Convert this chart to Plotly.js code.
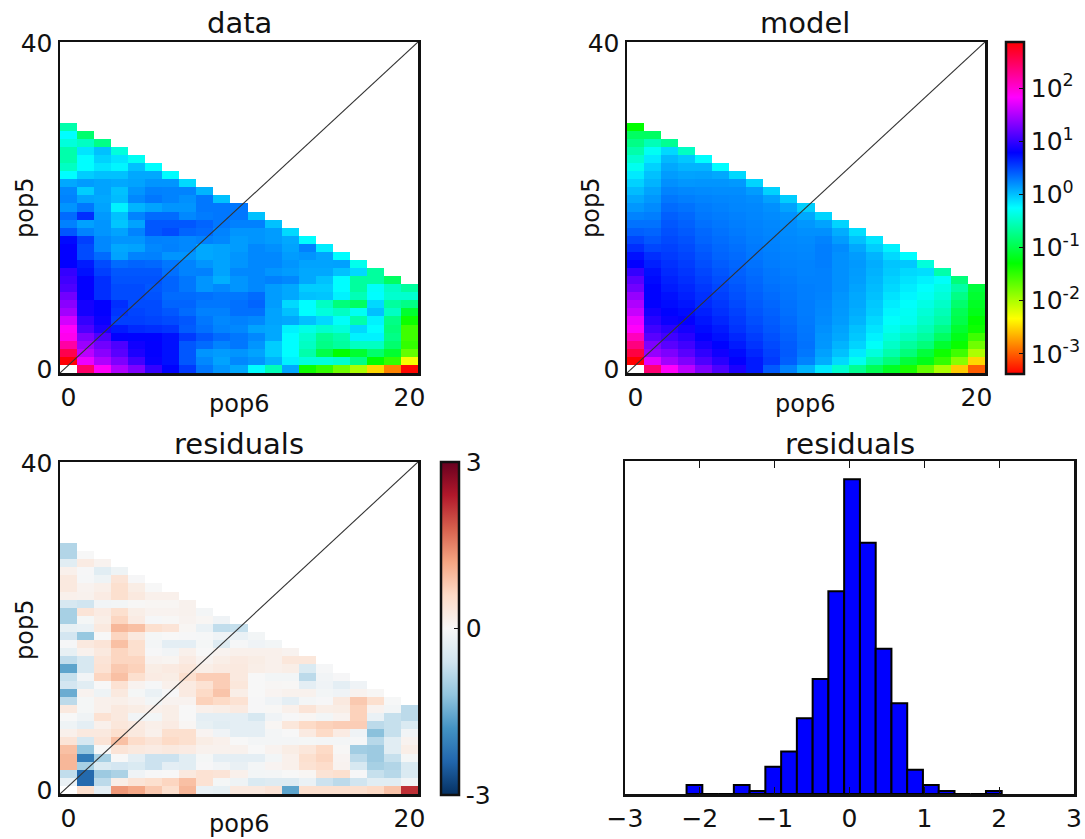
<!DOCTYPE html>
<html><head><meta charset="utf-8">
<script src="https://cdn.plot.ly/plotly-3.0.1.min.js"></script>
<style>html,body{margin:0;padding:0;background:#fff}#c{width:1085px;height:839px}</style>
</head><body><div id="c"></div>
<script>
// log10(frequency), one list per pop6 column, pop5 index rising from 0
const dataLog = [
[null,2.85,2.55,2.2,1.9,1.85,1.65,1.45,1.35,1.25,1.1,1.05,1.0,.8,.8,.8,.75,.43,.26,.35,.18,.25,.23,.1,-.25,-.5,-.6,-.6,-.4,-.25,-.6],
[2.45,1.75,1.55,1.42,1.3,1.1,1.0,.87,.87,.8,.8,.8,.72,.68,.48,.48,.53,.25,.13,.6,.3,.12,-.05,.15,-.05,-.25,-.25,-.15,-.5,-.85],
[1.85,1.5,1.35,1.25,1.1,.9,.83,.8,.8,.6,.6,.6,.53,.48,.35,.23,.23,.18,.18,.16,.12,.1,.12,.12,0,-.15,-.07,0,-.75],
[1.5,1.3,1.15,1.1,.8,.68,.53,.57,.6,.48,.48,.45,.43,.35,.12,.1,.18,.12,-.02,0,-.2,.02,0,.1,0,-.22,-.15,-.4],
[1.3,1.05,.9,.85,.78,.62,.53,.51,.48,.48,.48,.45,.43,.38,.25,.12,.18,.25,.12,.25,.05,.23,.18,.12,.1,0,-.3],
[1.0,.82,.8,.8,.78,.6,.51,.48,.48,.45,.43,.45,.43,.36,.26,.23,.26,.43,.43,.35,.12,.3,.26,.18,.1,-.25],
[.78,.72,.72,.72,.72,.57,.48,.43,.38,.35,.38,.38,.33,.3,.18,.26,.25,.48,.43,.35,.18,.25,.25,.18,-.25],
[.55,.43,.43,.43,.55,.41,.43,.35,.38,.35,.3,.3,.25,.25,.18,.23,.23,.38,.43,.23,.18,.2,.25,-.1],
[.3,.23,.18,.35,.43,.33,.3,.26,.3,.33,.18,.18,.26,.18,.1,.1,.26,.35,.38,.28,.3,.3,.05],
[.18,.12,.15,.25,.35,.25,.23,.26,.3,.3,.23,.07,.12,.12,.12,.12,.23,.25,.3,.3,.3,0],
[.1,.23,.18,.3,.3,.23,.26,.33,.33,.3,.18,.18,.23,.18,.18,.15,.15,.18,.26,.3,.3],
[-.25,.18,.12,.18,.23,.12,.23,.33,.38,.35,.23,.23,.23,.23,.23,.23,.18,.18,.26,0],
[-.55,.05,-.05,-.05,.1,.1,.12,.12,.15,.15,.15,.26,.18,.23,.23,.2,.15,.15,0],
[.1,-.2,-.25,-.25,-.25,-.2,.1,0,-.1,.1,.1,.23,.15,.18,.15,.12,.1,-.1],
[-1.35,-.4,-.6,-.5,-.45,-.35,0,-.25,-.25,0,-.05,.1,.1,.12,.18,.26,-.25],
[-1.5,-.4,-1.0,-.75,-.7,-.45,-.1,-.4,-.5,-.02,-.05,0,.1,.12,.12,-.18],
[-1.75,-.45,-1.3,-.65,-.6,-.4,-.28,-.5,-.8,-.2,-.25,-.25,0,.13,-.25],
[-2.0,-.75,-1.1,-.5,-.2,-.1,-.6,-.3,-.9,-.55,-.65,-.65,-.1,-.33],
[-2.5,-1.3,-.85,-.5,-.2,-.25,-.2,0,-.1,-.25,-.28,-.65,-.65],
[-2.85,-1.5,-1.1,-.85,-.75,-.8,-.75,-.5,-.65,-.45,-.5,-.9],
[-3.35,-2.3,-1.7,-1.5,-1.55,-1.55,-1.35,-1.1,-.75,-.45,-.65]
];
const modelLog = [
[null,2.87,2.6,2.35,2.1,1.85,1.75,1.6,1.5,1.4,1.25,1.15,1.0,.8,.72,.6,.5,.4,.32,.25,.17,.1,.02,-.07,-.17,-.32,-.45,-.6,-.75,-.9,-1.3],
[2.4,1.7,1.4,1.3,1.15,1.05,.95,.87,.8,.78,.78,.75,.72,.66,.6,.5,.43,.38,.32,.27,.22,.17,.12,.05,0,-.07,-.17,-.3,-.55,-.9],
[1.85,1.45,1.3,1.15,1.05,.95,.83,.78,.74,.72,.68,.65,.62,.59,.55,.52,.49,.46,.43,.4,.35,.3,.25,.2,.15,.1,.03,-.1,-.7],
[1.55,1.3,1.15,1.05,.95,.87,.8,.74,.7,.66,.63,.6,.57,.54,.51,.48,.45,.42,.39,.36,.32,.27,.23,.17,.12,.05,-.03,-.5],
[1.3,1.1,.98,.88,.8,.74,.7,.66,.62,.59,.56,.53,.5,.47,.44,.41,.38,.36,.33,.3,.28,.25,.22,.18,.13,.05,-.25],
[1.1,.95,.85,.78,.72,.68,.63,.59,.56,.53,.5,.47,.44,.41,.38,.36,.34,.32,.3,.28,.26,.24,.21,.18,.1,-.25],
[.9,.8,.74,.68,.63,.58,.55,.52,.49,.46,.44,.41,.39,.37,.35,.33,.31,.29,.27,.26,.24,.23,.21,.16,-.1],
[.68,.68,.63,.58,.54,.5,.47,.44,.42,.4,.38,.36,.34,.32,.3,.29,.27,.26,.25,.24,.23,.21,.15,-.08],
[.42,.55,.52,.49,.46,.43,.41,.39,.37,.35,.33,.31,.3,.28,.27,.26,.25,.24,.23,.22,.2,.13,-.07],
[.25,.4,.42,.41,.39,.37,.35,.33,.32,.31,.3,.29,.27,.26,.25,.24,.23,.22,.21,.19,.12,-.05],
[.05,.25,.3,.32,.31,.3,.29,.28,.28,.27,.27,.26,.25,.25,.24,.23,.22,.2,.17,.1,-.06],
[-.17,.08,.13,.17,.18,.2,.22,.23,.24,.25,.26,.26,.26,.27,.27,.27,.25,.2,.12,-.08],
[-.45,-.1,0,.05,.1,.12,.15,.16,.17,.18,.2,.2,.2,.2,.2,.22,.15,.08,-.08],
[-.7,-.32,-.17,-.08,-.03,0,.05,.08,.1,.1,.12,.14,.15,.16,.15,.1,0,-.12],
[-.95,-.6,-.4,-.28,-.2,-.15,-.1,-.05,-.03,0,.02,.04,.06,.08,.05,-.05,-.15],
[-1.15,-.8,-.6,-.48,-.4,-.32,-.27,-.22,-.18,-.14,-.1,-.07,-.04,-.02,-.1,-.2],
[-1.4,-1.05,-.8,-.65,-.52,-.42,-.32,-.3,-.27,-.22,-.18,-.14,-.1,-.03,-.25],
[-1.7,-1.2,-1.05,-.8,-.65,-.55,-.47,-.42,-.36,-.3,-.26,-.2,-.12,-.4],
[-2.0,-1.5,-1.35,-1.1,-.9,-.75,-.62,-.55,-.48,-.42,-.36,-.28,-.6],
[-2.55,-1.85,-1.55,-1.33,-1.2,-1.1,-1.0,-.95,-.85,-.75,-.62,-.8],
[-3.0,-2.5,-2.0,-1.75,-1.55,-1.35,-1.3,-1.2,-1.15,-1.1,-1.05]
];
const residuals = [
[null,-.2,-.75,1.0,1.0,.9,.4,.15,-.15,0,.3,-.8,-1.5,-.55,-.7,-1.6,-.75,-.25,-.03,-.55,-.25,-1.0,-1.0,-.5,.15,.3,.3,.15,-.35,-.9,-.9],
[.5,-2.35,-2.35,-1.0,-2.1,-1.15,-.5,.3,-.3,-.13,-.05,-.05,.1,-.35,-.1,-.5,-.5,.12,.3,-1.15,-.2,-.05,.4,-.6,.12,.1,-.03,-.02,.25,0],
[-.3,-.8,-1.1,-.45,-1.0,0,.4,.3,.15,.45,.15,.15,-.15,0,.65,.45,.4,.3,.4,0,.3,.2,.25,-.1,.25,.18,-.15,-.35,.1],
[1.3,.2,-.95,-.55,0,.4,.9,.5,.35,.3,.3,.18,.3,.45,.9,.8,.65,.65,.9,.65,1.0,.65,.5,-.08,.5,.5,.4,-.15],
[1.15,.4,-.12,-.45,-.3,.3,.55,.3,.28,-.1,.22,.1,-.05,.1,.5,.7,.65,.5,.5,.3,.9,.25,.2,.02,.3,.22,-.02],
[.8,.5,-.02,-.65,-.65,.25,.4,.15,.17,-.08,.15,-.08,-.2,-.03,.25,.22,.1,-.02,-.07,-.05,.5,-.03,.1,.05,.15,0],
[.5,.65,0,-.3,-.65,.3,.6,.5,.25,.2,.2,.1,-.02,.15,.22,.28,.07,-.1,-.3,0,.4,.02,.1,.05,.15],
[1.0,.9,.3,-.35,-.35,.25,.5,.5,.05,0,0,.1,.28,.28,.5,.35,.25,.15,-.3,-.02,.05,.1,.12,.12],
[-.2,.45,.45,-.02,-.05,.12,.22,.08,-.25,-.3,.15,.7,.6,.45,.75,.2,.1,0,-.05,-.03,-.2,.05,-.07],
[-.25,-.05,.4,-.1,-.3,.12,.15,-.12,-.35,-.3,.2,.6,.85,.75,.75,.28,.2,.1,-.4,-.12,-.75,-.12],
[.3,-.15,.15,-.22,-.3,.12,0,-.3,-.3,-.3,.28,.45,.2,.35,.3,.3,.28,.15,-.03,-.2,-.7],
[.3,-.45,-.08,-.07,-.3,0,-.07,-.3,-.3,-.5,-.02,-.02,0,0,0,.2,.22,.15,-.12,-.08],
[.4,-.4,-.07,.08,-.08,.1,-.07,-.07,.05,-.12,.03,-.12,.08,.04,-.08,.15,.15,.15,-.08],
[-1.6,-.4,0,.15,.15,.22,-.07,0,.35,-.02,.15,-.3,.12,.03,-.08,.2,.35,.1],
[.5,-.2,.05,.45,.5,.35,-.05,.28,.6,.05,.4,-.07,.12,-.3,-.8,-.45,.35],
[.5,-.65,.42,.55,.65,.6,-.07,.6,.7,-.08,.2,-.02,-.08,-.12,-.1,-.03],
[.5,-.8,.5,.1,.08,.03,-.07,.25,.75,.1,.22,.3,-.12,-.3,-.02],
[.5,-.6,-.02,-.5,-.8,-1.05,-.03,-.12,.75,.7,.7,.8,.1,-.12],
[.6,-.35,-.7,-1.0,-1.1,-1.1,-.85,-1.25,-.8,-.2,.1,.5,.03],
[.85,-.35,-.85,-.9,-.7,-.35,-.35,-.7,-.7,-.7,-.08,-.01],
[2.2,-.1,-.45,-.45,-.05,.2,.1,-.1,-.45,-.8,-.8]
];
const histBinCenters = [-2.072,-1.861,-1.651,-1.440,-1.230,-1.019,-0.808,-0.598,-0.387,-0.177,0.034,0.245,0.455,0.666,0.876,1.087,1.298,1.508,1.719,1.929];
const histCounts = [3,0,0,3,1,9,14,25,38,67,104,83,48,30,8,3,1,0,0,1];
const histBinWidth = 0.2106;
const logTickVals = [-3,-2,-1,0,1,2];
const logTickText = ['10<sup>-3</sup>','10<sup>-2</sup>','10<sup>-1</sup>','10<sup>0</sup>','10<sup>1</sup>','10<sup>2</sup>'];
const residTickVals = [-3,0,3];
const residTickText = ['-3','0','3'];
const popX = Array.from({length:21},(_,i)=>i);
const popY = Array.from({length:41},(_,i)=>i);
const diagX = [-0.5,20.5], diagY = [-0.5,40.5];

const W=1085,H=839;
const FONT='"DejaVu Sans", sans-serif';
const TICK=25, LABEL=24, TITLE=29;
const INK='#111';
const fx=p=>p/W, fy=p=>1-p/H;
const toRows=cols=>popY.map(r=>popX.map(c=>{const v=cols[c][r];return v===undefined?null:v;}));
const hsv=[[0,'#ff0000'],[1/6,'#ffff00'],[1/3,'#00ff00'],[.5,'#00ffff'],[2/3,'#0000ff'],[5/6,'#ff00ff'],[1,'#ff0000']];
const rdbu=[[0,'#053061'],[.1,'#2166ac'],[.2,'#4393c3'],[.3,'#92c5de'],[.4,'#d1e5f0'],[.5,'#f7f7f7'],[.6,'#fddbc7'],[.7,'#f4a582'],[.8,'#d6604d'],[.9,'#b2182b'],[1,'#67001f']];
const ZMIN=-3.38,ZMAX=2.87;

function hm(cols,xa,ya,cs,zmin,zmax,colorbar){
  const t={type:'heatmap',z:toRows(cols),x:popX,y:popY,xaxis:xa,yaxis:ya,colorscale:cs,zmin,zmax,hoverinfo:'skip',showscale:!!colorbar};
  if(colorbar)t.colorbar=colorbar;
  return t;
}
function diag(xa,ya){return {type:'scatter',mode:'lines',x:diagX,y:diagY,xaxis:xa,yaxis:ya,line:{color:'#333',width:1.1},hoverinfo:'skip',showlegend:false};}
const cbBase={thickness:18,thicknessmode:'pixels',lenmode:'fraction',xanchor:'left',yanchor:'bottom',xpad:0,ypad:0,outlinewidth:2.5,outlinecolor:INK,
  ticks:'inside',ticklen:6,tickwidth:1,tickcolor:INK,tickfont:{family:FONT,size:TICK,color:INK},tickmode:'array',borderwidth:0};

const traces=[
 hm(dataLog,'x','y',hsv,ZMIN,ZMAX,null),diag('x','y'),
 hm(modelLog,'x2','y2',hsv,ZMIN,ZMAX,Object.assign({},cbBase,{x:fx(1006),y:fy(374),len:332/H,tickvals:logTickVals,ticktext:logTickText})),diag('x2','y2'),
 hm(residuals,'x3','y3',rdbu,-3,3,Object.assign({},cbBase,{x:fx(441),y:fy(795),len:333/H,tickvals:residTickVals,ticktext:residTickText})),diag('x3','y3'),
 {type:'bar',x:histBinCenters,y:histCounts,width:histBinWidth,xaxis:'x4',yaxis:'y4',marker:{color:'#0000ff',line:{color:'#000',width:2}},hoverinfo:'skip'}
];
function popX_axis(dom,anchor){return {domain:dom,anchor,range:[-0.5,20.5],tickmode:'array',tickvals:[0,20],ticktext:['0','20'],ticks:'',showgrid:false,zeroline:false,showline:true,mirror:true,linecolor:INK,linewidth:2.5,
  tickfont:{family:FONT,size:TICK,color:INK}};}
function popY_axis(dom,anchor){return {domain:dom,anchor,range:[-0.5,40.5],tickmode:'array',tickvals:[0,40.3],ticktext:['0','40'],ticks:'',showgrid:false,zeroline:false,showline:true,mirror:true,linecolor:INK,linewidth:2.5,
  tickfont:{family:FONT,size:TICK,color:INK}};}
const titles=[['data',239,23],['model',805,23],['residuals',239,444],['residuals',850,444]];
const xLabels=[['pop6',239,404],['pop6',805,404],['pop6',239,824]];
const yLabels=[['pop5',25,208],['pop5',591,208],['pop5',25,630]];
const note=(t,size,angle)=>({text:t[0],x:fx(t[1]),y:fy(t[2]),xref:'paper',yref:'paper',xanchor:'center',yanchor:'middle',textangle:angle,showarrow:false,font:{family:FONT,size,color:INK}});
const layout={width:W,height:H,margin:{l:0,r:0,t:0,b:0,autoexpand:false},paper_bgcolor:'#fff',plot_bgcolor:'#fff',showlegend:false,bargap:0,
 xaxis:popX_axis([fx(60),fx(418)],'y'),yaxis:popY_axis([fy(373),fy(42)],'x'),
 xaxis2:popX_axis([fx(627),fx(985)],'y2'),yaxis2:popY_axis([fy(373),fy(42)],'x2'),
 xaxis3:popX_axis([fx(60),fx(418)],'y3'),yaxis3:popY_axis([fy(794),fy(462)],'x3'),
 xaxis4:{domain:[fx(625),fx(1074)],anchor:'y4',range:[-3,3],dtick:1,tick0:-3,ticks:'inside',ticklen:7,tickwidth:1,tickcolor:INK,mirror:'allticks',showline:true,linecolor:INK,linewidth:2.5,showgrid:false,zeroline:false,tickfont:{family:FONT,size:TICK,color:INK}},
 yaxis4:{domain:[fy(794),fy(461)],anchor:'x4',range:[0,110],showticklabels:false,ticks:'',showgrid:false,zeroline:false,showline:true,mirror:true,linecolor:INK,linewidth:2.5},
 annotations:[...titles.map(t=>note(t,TITLE,0)),...xLabels.map(t=>note(t,LABEL,0)),...yLabels.map(t=>note(t,LABEL,-90))]
};
Plotly.newPlot('c',traces,layout,{displayModeBar:false,staticPlot:true});
</script></body></html>
